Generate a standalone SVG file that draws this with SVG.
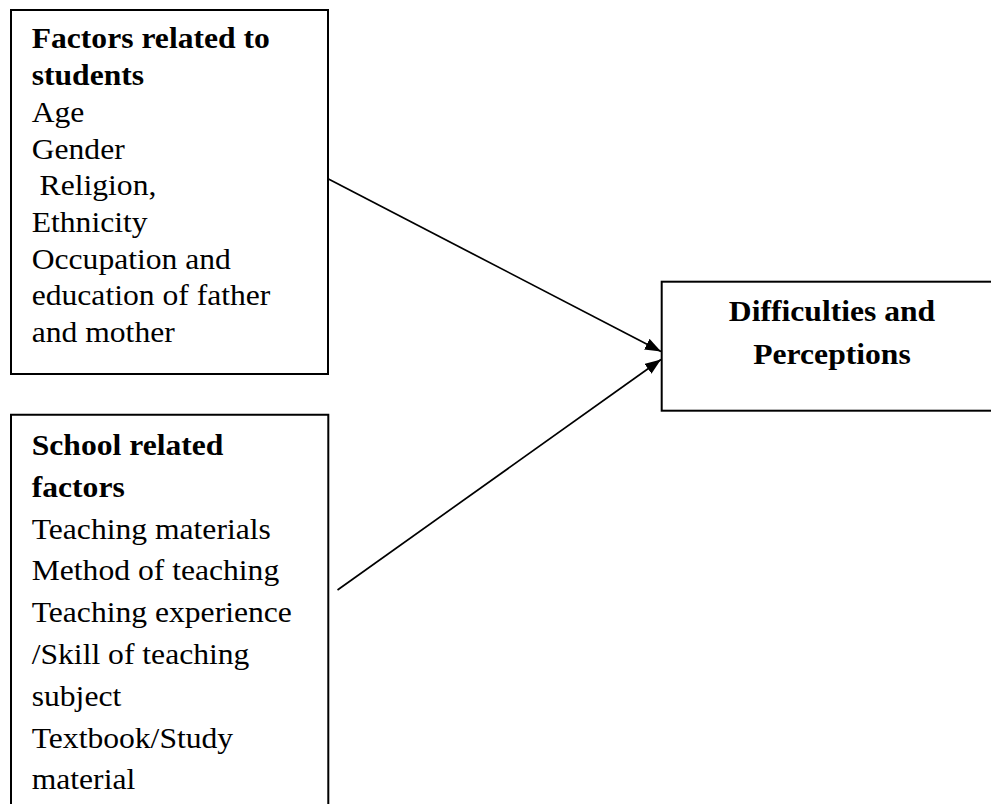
<svg xmlns="http://www.w3.org/2000/svg" width="991" height="804" viewBox="0 0 991 804">
  <defs>
    <style>
      .box { fill: #ffffff; stroke: #000000; stroke-width: 2; }
      .conn { fill: none; stroke: #000000; stroke-width: 1.7; }
      .t { font-family: "Liberation Serif", "Times New Roman", serif; font-size: 29px; fill: #000000; }
      .b { font-weight: bold; }
    </style>
    <marker id="arrow" viewBox="0 0 16 12" refX="16" refY="6" markerWidth="16" markerHeight="12" markerUnits="userSpaceOnUse" orient="auto">
      <path d="M0,0 L16,6 L0,12 Z" fill="#000000"/>
    </marker>
  </defs>
  <rect width="991" height="804" fill="#ffffff"/>

  <g id="connectors">
    <line class="conn" x1="328.5" y1="179" x2="661" y2="351.5" marker-end="url(#arrow)"/>
    <line class="conn" x1="337.5" y1="590" x2="661" y2="359.5" marker-end="url(#arrow)"/>
  </g>

  <g id="node-students">
    <rect class="box" x="11" y="10" width="317" height="364"/>
    <g transform="translate(31.7,0) scale(1.09,1)">
      <text class="t b" x="0" y="48.5">Factors related to</text>
      <text class="t b" x="0" y="85.2">students</text>
      <text class="t" x="0" y="121.9">Age</text>
      <text class="t" x="0" y="158.6">Gender</text>
      <text class="t" x="0" y="195.3" xml:space="preserve"> Religion,</text>
      <text class="t" x="0" y="232">Ethnicity</text>
      <text class="t" x="0" y="268.7">Occupation and</text>
      <text class="t" x="0" y="305.4">education of father</text>
      <text class="t" x="0" y="342.1">and mother</text>
    </g>
  </g>

  <g id="node-school">
    <path class="box" d="M11,820 L11,414.7 L328.3,414.7 L328.3,820"/>
    <g transform="translate(31.7,0) scale(1.09,1)">
      <text class="t b" x="0" y="455">School related</text>
      <text class="t b" x="0" y="496.8">factors</text>
      <text class="t" x="0" y="538.6">Teaching materials</text>
      <text class="t" x="0" y="580.4">Method of teaching</text>
      <text class="t" x="0" y="622.2">Teaching experience</text>
      <text class="t" x="0" y="664">/Skill of teaching</text>
      <text class="t" x="0" y="705.8">subject</text>
      <text class="t" x="0" y="747.6">Textbook/Study</text>
      <text class="t" x="0" y="789.4">material</text>
    </g>
  </g>

  <g id="node-outcome">
    <rect class="box" x="661.7" y="281.7" width="340" height="129"/>
    <g transform="translate(832,0) scale(1.09,1)">
      <text class="t b" x="0" y="320.7" text-anchor="middle">Difficulties and</text>
      <text class="t b" x="0" y="364.2" text-anchor="middle">Perceptions</text>
    </g>
  </g>
</svg>
